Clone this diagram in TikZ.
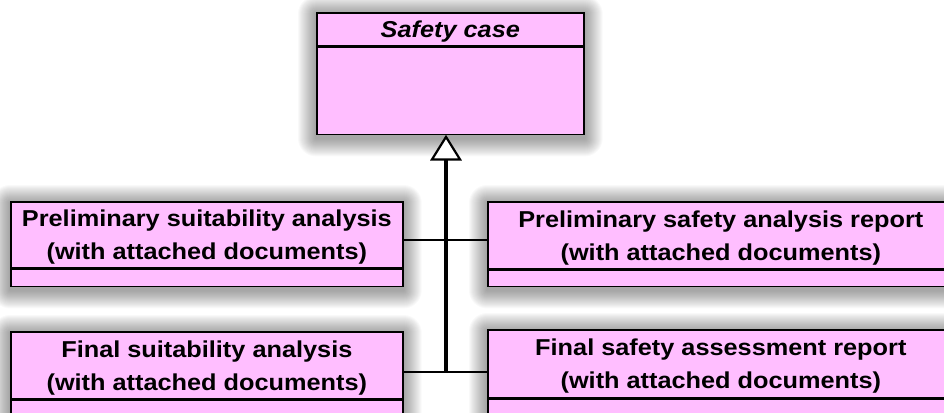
\documentclass[tikz,border=0pt]{standalone}
\usepackage{fontspec}
\setmainfont{Liberation Sans}
\newfontfamily\boxfont[FakeStretch=1.1]{Liberation Sans}
\usetikzlibrary{calc,backgrounds}
\definecolor{classpink}{RGB}{255,190,255}

% soft halo behind a class box, given its north-west and south-east corners
\newcommand\softshadow[2]{%
  \foreach \d in {1,...,18}{%
    \fill[black,opacity=0.023,rounded corners=\d pt]
      ($(#1)+(-\d,\d-2)$) rectangle ($(#2)+(\d,-\d-3)$);}}

\begin{document}
\begin{tikzpicture}[x=1pt,y=1pt,
  classhead/.style={draw=black,line width=1.7pt,fill=classpink,inner sep=0pt,
    align=center,anchor=north west,text depth=0pt,
    font=\boxfont\bfseries\fontsize{23}{33}\selectfont},
  classbody/.style={draw=black,line width=1.7pt,fill=classpink,inner sep=0pt,
    anchor=north west},
  conn/.style={draw=black,line width=1.7pt},
  trunk/.style={draw=black,line width=3.5pt},
  hollowtip/.style={draw=black,line width=2.2pt,fill=white,line join=miter}]

\useasboundingbox (0,0) rectangle (944,-412);

% generalisation target
\node[classhead,minimum width=267,minimum height=33] (sc) at (316,-12) {\itshape Safety case};
\node[classbody,minimum width=267,minimum height=87] (scb) at (sc.south west) {};

% upper row of specialised documents
\node[classhead,minimum width=392,minimum height=66] (psa) at (10,-201)
  {Preliminary suitability analysis\\(with attached documents)};
\node[classbody,minimum width=392,minimum height=17] (psab) at (psa.south west) {};
\node[classhead,minimum width=466,minimum height=67] (psr) at (487,-201)
  {Preliminary safety analysis report\\(with attached documents)};
\node[classbody,minimum width=466,minimum height=16] (psrb) at (psr.south west) {};

% lower row of specialised documents
\node[classhead,minimum width=392,minimum height=67] (fsa) at (10,-331)
  {Final suitability analysis\\(with attached documents)};
\node[classbody,minimum width=392,minimum height=17] (fsab) at (fsa.south west) {};
\node[classhead,minimum width=466,minimum height=68] (fsr) at (487,-329)
  {Final safety assessment report\\(with attached documents)};
\node[classbody,minimum width=466,minimum height=17] (fsrb) at (fsr.south west) {};

% junctions on the shared trunk, and the tip of the generalisation arrow
\coordinate (j1) at (446,-240);
\coordinate (j2) at (446,-372);
\coordinate (tip) at (scb.south -| j2);
\coordinate (tipbase) at ($(tip)+(0,-24)$);

\draw[conn] (psa.east |- j1) -- (psr.west |- j1);
\draw[conn] (fsa.east |- j2) -- (fsr.west |- j2);
\draw[trunk] (j2) -- (tipbase);
\draw[hollowtip] ($(tip)+(0,-1.5)$) -- ($(tipbase)+(-14,0)$) -- ($(tipbase)+(14,0)$) -- cycle;

% drop shadows behind the boxes
\begin{scope}[on background layer]
  \softshadow{sc.north west}{scb.south east}
  \softshadow{psa.north west}{psab.south east}
  \softshadow{psr.north west}{psrb.south east}
  \softshadow{fsa.north west}{fsab.south east}
  \softshadow{fsr.north west}{fsrb.south east}
\end{scope}
\end{tikzpicture}
\end{document}
